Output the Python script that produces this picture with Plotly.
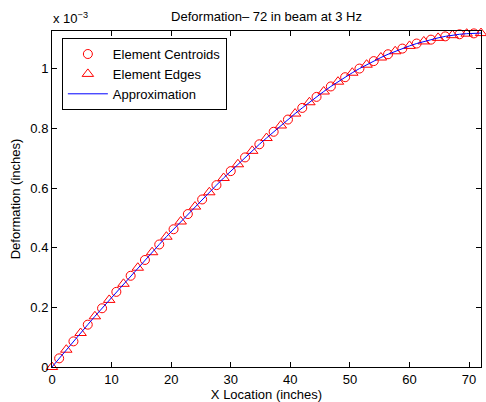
import plotly.graph_objects as go

# Element edge locations (in) and deformation at each edge (x 1e-3 in)
edge_x = [0.0, 2.4, 4.8, 7.2, 9.6, 12.0, 14.4, 16.8, 19.2, 21.6, 24.0,
          26.4, 28.8, 31.2, 33.6, 36.0, 38.4, 40.8, 43.2, 45.6, 48.0,
          50.4, 52.8, 55.2, 57.6, 60.0, 62.4, 64.8, 67.2, 69.6, 72.0]
edge_defl = [0.000, 0.058, 0.114, 0.170, 0.225, 0.279, 0.333, 0.385, 0.437, 0.488, 0.538,
             0.586, 0.634, 0.680, 0.725, 0.768, 0.810, 0.850, 0.888, 0.924, 0.957,
             0.987, 1.014, 1.038, 1.059, 1.077, 1.092, 1.104, 1.113, 1.118, 1.120]

# Element centroid locations (in) and deformation at each centroid (x 1e-3 in)
cent_x = [1.2, 3.6, 6.0, 8.4, 10.8, 13.2, 15.6, 18.0, 20.4, 22.8,
          25.2, 27.6, 30.0, 32.4, 34.8, 37.2, 39.6, 42.0, 44.4, 46.8,
          49.2, 51.6, 54.0, 56.4, 58.8, 61.2, 63.6, 66.0, 68.4, 70.8]
cent_defl = [0.029, 0.086, 0.142, 0.197, 0.252, 0.306, 0.359, 0.411, 0.462, 0.513,
             0.562, 0.610, 0.657, 0.703, 0.747, 0.789, 0.830, 0.869, 0.906, 0.941,
             0.972, 1.001, 1.026, 1.049, 1.068, 1.085, 1.098, 1.109, 1.116, 1.119]

x_ticks = [0, 10, 20, 30, 40, 50, 60, 70]
y_ticks = [0, 0.2, 0.4, 0.6, 0.8, 1.0]
y_tick_text = ["0", "0.2", "0.4", "0.6", "0.8", "1"]

# Approximation curve through all nodal and centroid values
approx = sorted(zip(edge_x + cent_x, edge_defl + cent_defl))
approx_x = [p[0] for p in approx]
approx_y = [p[1] for p in approx]

FONT = "Liberation Sans, Arial, Helvetica, sans-serif"

fig = go.Figure()
fig.add_trace(go.Scatter(
    x=cent_x, y=cent_defl, mode="markers", name="Element Centroids",
    cliponaxis=False,
    marker=dict(symbol="circle-open", size=9, color="#ff0000",
                line=dict(width=1, color="#ff0000")),
))
fig.add_trace(go.Scatter(
    x=edge_x, y=edge_defl, mode="markers", name="Element Edges",
    cliponaxis=False,
    marker=dict(symbol="triangle-up-open", size=10, color="#ff0000",
                line=dict(width=1, color="#ff0000")),
))
fig.add_trace(go.Scatter(
    x=approx_x, y=approx_y, mode="lines", name="Approximation",
    line=dict(color="#0000ff", width=1),
))

axis_common = dict(
    showgrid=False, zeroline=False, showline=True, linecolor="black",
    linewidth=1, mirror="ticks", ticks="inside", ticklen=5,
    tickcolor="black", tickwidth=1,
    tickfont=dict(family=FONT, size=13, color="black"),
)

fig.update_layout(
    width=486, height=402,
    margin=dict(l=52, r=4, t=31, b=32),
    paper_bgcolor="white", plot_bgcolor="white",
    font=dict(family=FONT, size=13, color="black"),
    title=dict(text="Deformation\u2013 72 in beam at 3 Hz", x=0.5, xref="paper",
               y=1 - 16.5 / 402, yref="container", yanchor="middle",
               xanchor="center", font=dict(family=FONT, size=13, color="black")),
    xaxis=dict(range=[0, 72], tickvals=x_ticks,
               title=dict(text="X Location (inches)", standoff=2,
                          font=dict(family=FONT, size=13)),
               **axis_common),
    yaxis=dict(range=[0, 1.127], tickvals=y_ticks, ticktext=y_tick_text,
               title=dict(text="Deformation (inches)", standoff=6,
                          font=dict(family=FONT, size=13)),
               **axis_common),
    legend=dict(x=0.023, y=0.979, xanchor="left", yanchor="top",
                bgcolor="white", bordercolor="black", borderwidth=1,
                font=dict(family=FONT, size=13, color="black"),
                itemwidth=40, tracegroupgap=0),
    showlegend=True,
)

fig.add_annotation(
    text="x 10<sup>\u22123</sup>", xref="paper", yref="paper",
    x=0, y=1, xanchor="left", yanchor="bottom", yshift=3, xshift=-1,
    showarrow=False, font=dict(family=FONT, size=13, color="black"),
)

fig.write_html("out.html")
